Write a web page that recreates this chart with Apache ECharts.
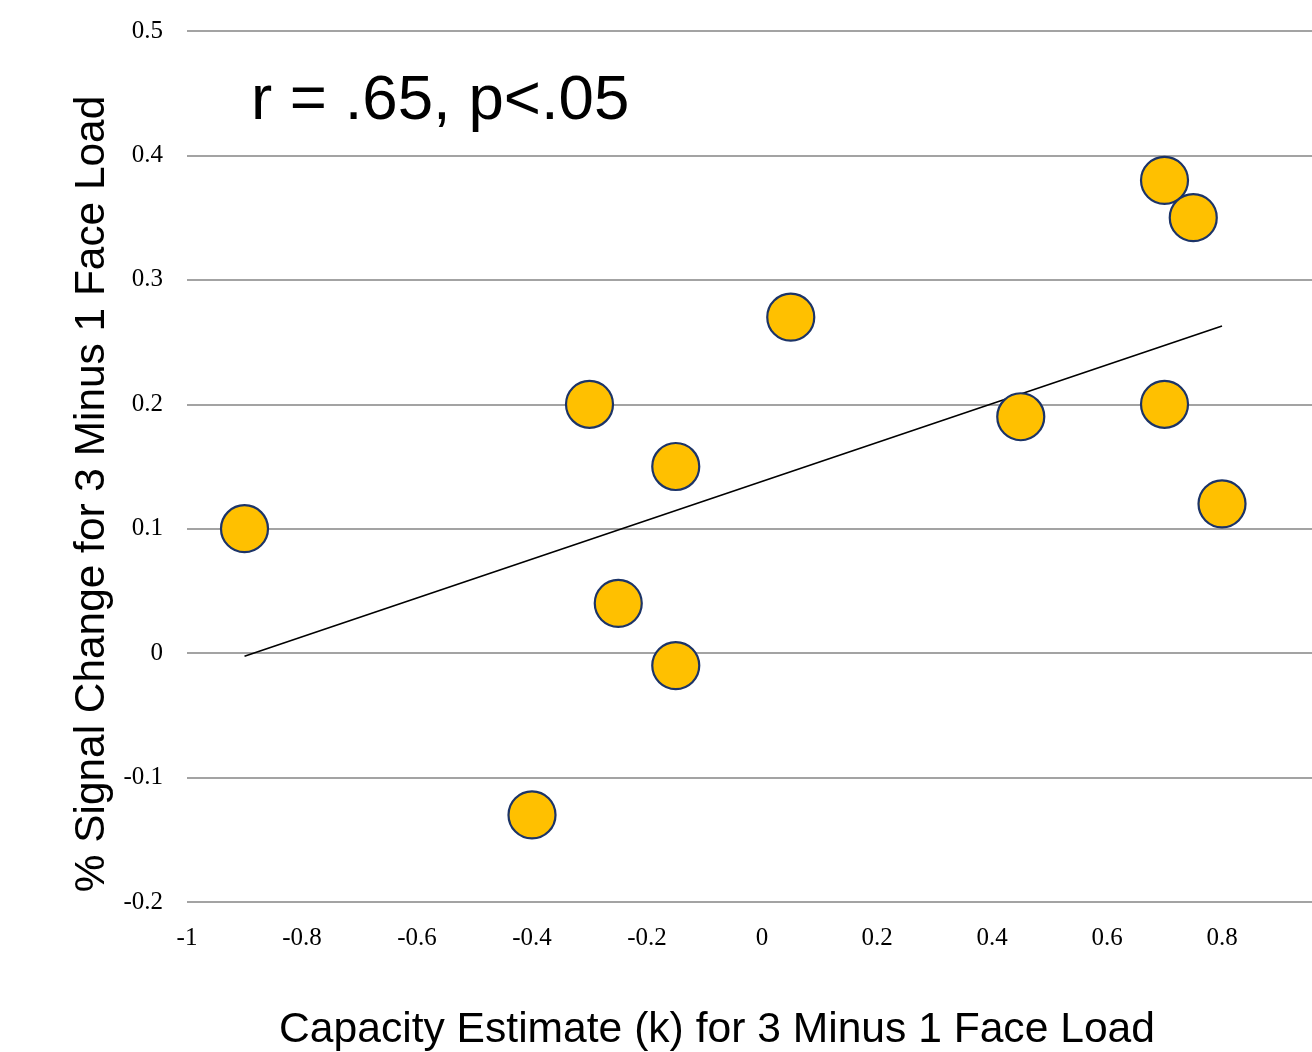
<!DOCTYPE html>
<html>
<head>
<meta charset="utf-8">
<script src="https://cdn.jsdelivr.net/npm/echarts@6/dist/echarts.min.js"></script>
<style>
  html, body { margin: 0; padding: 0; background: #ffffff; }
  #chart { width: 1312px; height: 1052px; }
</style>
</head>
<body>
<div id="chart"></div>
<script>
// Capacity estimate (k) vs. % signal change, 3 minus 1 face load
const capacityK = [-0.9, -0.4, -0.3, -0.25, -0.15, -0.15, 0.05, 0.45, 0.7, 0.75, 0.7, 0.8];
const signalChange = [0.10, -0.13, 0.20, 0.04, 0.15, -0.01, 0.27, 0.19, 0.38, 0.35, 0.20, 0.12];
const xTicks = [-1, -0.8, -0.6, -0.4, -0.2, 0, 0.2, 0.4, 0.6, 0.8];
const yTicks = [-0.2, -0.1, 0, 0.1, 0.2, 0.3, 0.4, 0.5];
const xAxisEnd = 0.9565; // plot runs off the right edge just short of 1.0
const statText = 'r = .65, p<.05';

// Least-squares trend line over the observed x range
function fitLine(xs, ys) {
  const n = xs.length;
  const mx = xs.reduce((a, b) => a + b, 0) / n;
  const my = ys.reduce((a, b) => a + b, 0) / n;
  let sxy = 0, sxx = 0;
  for (let i = 0; i < n; i++) {
    sxy += (xs[i] - mx) * (ys[i] - my);
    sxx += (xs[i] - mx) * (xs[i] - mx);
  }
  const slope = sxy / sxx;
  const icpt = my - slope * mx;
  const x0 = Math.min(...xs), x1 = Math.max(...xs);
  return [[x0, icpt + slope * x0], [x1, icpt + slope * x1]];
}

const points = capacityK.map((x, i) => [x, signalChange[i]]);
const trend = fitLine(capacityK, signalChange);

// Only label values that are listed ticks
function tickFormatter(ticks) {
  return v => {
    const hit = ticks.find(t => Math.abs(t - v) < 1e-6);
    if (hit === undefined) return '';
    return hit === 0 ? '0' : String(hit);
  };
}

const chart = echarts.init(document.getElementById('chart'), null, { renderer: 'canvas' });
chart.setOption({
  backgroundColor: '#ffffff',
  animation: false,
  grid: { left: 187, top: 31, right: 0, bottom: 150, containLabel: false },
  xAxis: {
    type: 'value',
    min: xTicks[0],
    max: xAxisEnd,
    interval: 0.2,
    axisLine: { show: false },
    axisTick: { show: false },
    splitLine: { show: false },
    axisLabel: {
      margin: 24,
      showMaxLabel: false,
      fontFamily: '"Liberation Serif", "Times New Roman", serif',
      fontSize: 25,
      color: '#000000',
      formatter: tickFormatter(xTicks)
    }
  },
  yAxis: {
    type: 'value',
    min: yTicks[0],
    max: yTicks[yTicks.length - 1],
    interval: 0.1,
    axisLine: { show: false },
    axisTick: { show: false },
    splitLine: { show: true, lineStyle: { color: '#a3a3a3', width: 2 } },
    axisLabel: {
      margin: 24,
      padding: [4, 0, 0, 0],
      fontFamily: '"Liberation Serif", "Times New Roman", serif',
      fontSize: 25,
      color: '#000000',
      formatter: tickFormatter(yTicks)
    }
  },
  series: [
    {
      type: 'line',
      data: trend,
      symbol: 'none',
      lineStyle: { color: '#000000', width: 1.6 },
      z: 2
    },
    {
      type: 'scatter',
      data: points,
      symbol: 'circle',
      symbolSize: 47,
      itemStyle: { color: '#FFC000', borderColor: '#1C3468', borderWidth: 2.2, opacity: 1 },
      z: 3
    }
  ],
  graphic: [
    {
      type: 'text',
      left: 251,
      top: 69,
      style: {
        text: statText,
        font: '63.6px "Liberation Sans", Arial, sans-serif',
        fill: '#000000'
      }
    },
    {
      type: 'text',
      x: 717,
      y: 1030,
      style: {
        text: 'Capacity Estimate (k) for 3 Minus 1 Face Load',
        font: '42.6px "Liberation Sans", Arial, sans-serif',
        fill: '#000000',
        textAlign: 'center',
        textVerticalAlign: 'middle'
      }
    },
    {
      type: 'text',
      x: 92,
      y: 494,
      rotation: Math.PI / 2,
      style: {
        text: '% Signal Change for 3 Minus 1 Face Load',
        font: '42.4px "Liberation Sans", Arial, sans-serif',
        fill: '#000000',
        textAlign: 'center',
        textVerticalAlign: 'middle'
      }
    }
  ]
});
</script>
</body>
</html>
